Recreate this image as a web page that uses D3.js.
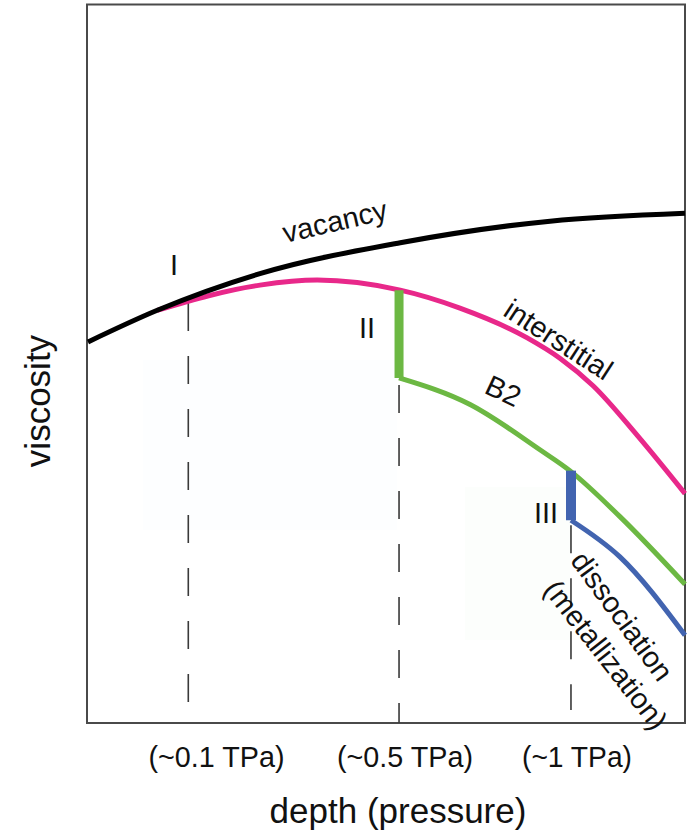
<!DOCTYPE html>
<html>
<head>
<meta charset="utf-8">
<script src="https://cdn.jsdelivr.net/npm/d3@7"></script>
<style>
  body { margin: 0; background: #fff; }
  svg text { font-family: "Liberation Sans", Arial, sans-serif; fill: #111; }
</style>
</head>
<body>
<div id="chart"></div>
<script>
// depth (0..100, arbitrary) vs viscosity (0..100, arbitrary)
const vacancy = [[0, 53.0], [11.6, 57.4], [28.8, 62.5], [52.3, 66.8], [77.4, 69.8], [100, 70.9]]
const interstitial = [[11.6, 57.4], [28.8, 60.9], [38.4, 61.6], [52.3, 60.2], [62.3, 57.7],
  [73.5, 53.6], [79.1, 50.7], [84.6, 46.9], [92, 40.0], [100, 31.9]]
const b2Step = [[52.1, 60.2], [52.1, 48.0]]
const b2 = [[52.1, 48.0], [64.0, 44.3], [75.7, 38.0], [80.7, 35.1], [89.1, 28.7], [100, 19.3]]
const dissStep = [[80.9, 35.1], [80.9, 28.2]]
const dissociation = [[80.9, 28.2], [89.1, 23.1], [100, 12.2]]

// dashed markers + their pressure labels
const markers = [16.8, 52.1, 80.9]
const markerTops = [58.4, 47.0, 27.5]
const markerBottoms = [2.5, 0, 1.8]
const tickLabels = ["(~0.1 TPa)", "(~0.5 TPa)", "(~1 TPa)"]
const tickLabelX = [216.5, 405, 577]

const width = 700, height = 837
const frame = { left: 87, top: 4.5, right: 685, bottom: 723 }

const svg = d3.select("#chart").append("svg")
  .attr("width", width)
  .attr("height", height)

const x = d3.scaleLinear().domain([0, 100]).range([88, 685])
const y = d3.scaleLinear().domain([0, 100]).range([723, 4])

// faint background patches from the scan
svg.append("rect").attr("x", 143).attr("y", 360).attr("width", 254).attr("height", 170).attr("fill", "#fdfeff")
svg.append("rect").attr("x", 465).attr("y", 487).attr("width", 105).attr("height", 153).attr("fill", "#fcfefc")

// frame
svg.append("rect")
  .attr("x", frame.left).attr("y", frame.top)
  .attr("width", frame.right - frame.left).attr("height", frame.bottom - frame.top)
  .attr("fill", "none").attr("stroke", "#4a4a4a").attr("stroke-width", 2)

// dashed guides
svg.selectAll(".guide").data(markers).enter().append("line")
  .attr("class", "guide")
  .attr("x1", d => x(d)).attr("x2", d => x(d))
  .attr("y1", (d, i) => y(markerTops[i])).attr("y2", (d, i) => y(markerBottoms[i]))
  .attr("stroke", "#3a3a3a").attr("stroke-width", 1.6)
  .attr("stroke-dasharray", "28,25")

const line = d3.line().x(d => x(d[0])).y(d => y(d[1])).curve(d3.curveMonotoneX)
const straight = d3.line().x(d => x(d[0])).y(d => y(d[1]))

const curves = [
  { data: interstitial, color: "#e8288a", w: 5, gen: line },
  { data: vacancy, color: "#000", w: 5, gen: line },
  { data: b2, color: "#6cb843", w: 5, gen: line },
  { data: b2Step, color: "#6cb843", w: 9, gen: straight },
  { data: dissociation, color: "#4264b0", w: 5, gen: line },
  { data: dissStep, color: "#4264b0", w: 10, gen: straight }
]

svg.selectAll(".curve").data(curves).enter().append("path")
  .attr("class", "curve")
  .attr("d", d => d.gen(d.data))
  .attr("fill", "none")
  .attr("stroke", d => d.color)
  .attr("stroke-width", d => d.w)

// labels on the curves
const labels = [
  { t: "vacancy", x: 337, y: 231, r: -13 },
  { t: "I", x: 174, y: 275, r: 0 },
  { t: "interstitial", x: 553, y: 348, r: 33 },
  { t: "II", x: 367, y: 338, r: 0 },
  { t: "B2", x: 499, y: 400, r: 25 },
  { t: "III", x: 546, y: 523, r: 0 },
  { t: "dissociation", x: 614, y: 622, r: 54 },
  { t: "(metallization)", x: 598, y: 661, r: 52 }
]
svg.selectAll(".lab").data(labels).enter().append("text")
  .attr("class", "lab")
  .attr("transform", d => `translate(${d.x},${d.y}) rotate(${d.r})`)
  .attr("text-anchor", "middle")
  .attr("font-size", 29)
  .text(d => d.t)

// pressure tick labels
svg.selectAll(".tick").data(tickLabels).enter().append("text")
  .attr("class", "tick")
  .attr("x", (d, i) => tickLabelX[i])
  .attr("y", 767)
  .attr("text-anchor", "middle")
  .attr("font-size", 29)
  .attr("textLength", (d, i) => i < 2 ? 136 : 110)
  .attr("lengthAdjust", "spacingAndGlyphs")
  .text(d => d)

// axis titles
svg.append("text")
  .attr("x", 398).attr("y", 823)
  .attr("text-anchor", "middle")
  .attr("font-size", 35)
  .text("depth (pressure)")

svg.append("text")
  .attr("transform", "translate(50,401) rotate(-90)")
  .attr("text-anchor", "middle")
  .attr("font-size", 35)
  .text("viscosity")
</script>
</body>
</html>
